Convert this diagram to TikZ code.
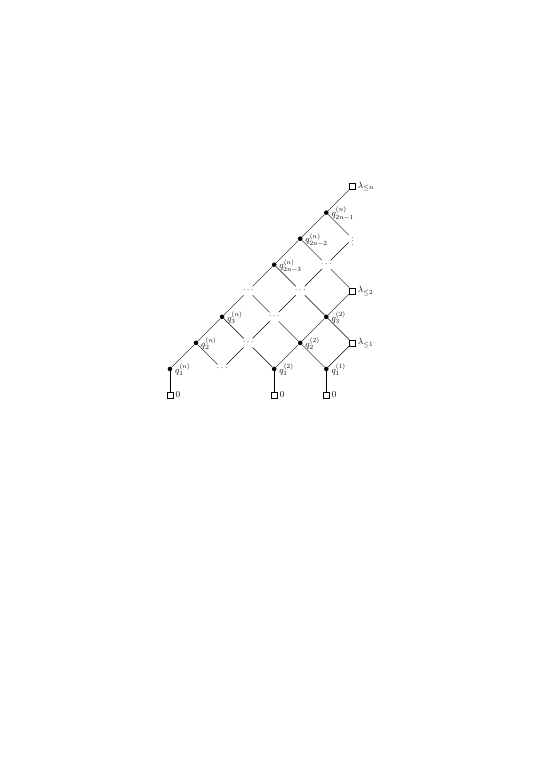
\documentclass[tikz,border=0pt]{standalone}
\begin{document}
\begin{tikzpicture}[
  dot/.style={circle,fill=black,inner sep=0pt,minimum size=5pt},
  sq/.style={draw,rectangle,inner sep=0pt,minimum size=6.5pt,fill=white},
  dd/.style={inner sep=2.5pt},
  lab/.style={inner sep=2.8pt,yshift=-1pt},
  edge/.style={line width=0.45pt}
]
\useasboundingbox (-6.523,-15.43) rectangle (14.40,14.16);
% left column chain
\node[dot,label={[lab]0:$q_1^{(n)}$}] (a1) at (0,0) {};
\node[dot,label={[lab]0:$q_2^{(n)}$}] (a2) at (1,1) {};
\node[dot,label={[lab]0:$q_3^{(n)}$}] (a3) at (2,2) {};
\node[dd] (d33) at (3,3) {$\cdots$};
\node[dot,label={[lab]0:$q_{2n-3}^{(n)}$}] (a4) at (4,4) {};
\node[dot,label={[lab]0:$q_{2n-2}^{(n)}$}] (a5) at (5,5) {};
\node[dot,label={[lab]0:$q_{2n-1}^{(n)}$}] (a6) at (6,6) {};
\node[sq,label={[inner sep=2.5pt]0:$\lambda_{\leq n}$}] (ln) at (7,7) {};
% inner dots
\node[dd] (d20) at (2,0) {$\cdots$};
\node[dd] (d31) at (3,1) {$\cdots$};
\node[dd] (d42) at (4,2) {$\cdots$};
\node[dd] (d53) at (5,3) {$\cdots$};
\node[dd] (d64) at (6,4) {$\cdots$};
\node[dd] (v75) at (7,5) {$\vdots$};
% second column
\node[dot,label={[lab]0:$q_1^{(2)}$}] (b1) at (4,0) {};
\node[dot,label={[lab]0:$q_2^{(2)}$}] (b2) at (5,1) {};
\node[dot,label={[lab]0:$q_3^{(2)}$}] (b3) at (6,2) {};
\node[sq,label={[inner sep=2.5pt]0:$\lambda_{\leq 2}$}] (l2) at (7,3) {};
% first column
\node[dot,label={[lab]0:$q_1^{(1)}$}] (c1) at (6,0) {};
\node[sq,label={[inner sep=2.5pt]0:$\lambda_{\leq 1}$}] (l1) at (7,1) {};
% zeros
\node[sq,label={[inner sep=2.5pt]0:$0$}] (z1) at (0,-1) {};
\node[sq,label={[inner sep=2.5pt]0:$0$}] (z2) at (4,-1) {};
\node[sq,label={[inner sep=2.5pt]0:$0$}] (z3) at (6,-1) {};
% up-right edges
\draw[edge] (a1) -- (a2) -- (a3) -- (d33) -- (a4) -- (a5) -- (a6) -- (ln);
\draw[edge] (d20) -- (d31) -- (d42) -- (d53) -- (d64) -- (v75);
\draw[edge] (b1) -- (b2) -- (b3) -- (l2);
\draw[edge] (c1) -- (l1);
% down-right edges
\draw[edge] (a2) -- (d20);
\draw[edge] (a3) -- (d31) -- (b1);
\draw[edge] (d33) -- (d42) -- (b2) -- (c1);
\draw[edge] (a4) -- (d53) -- (b3) -- (l1);
\draw[edge] (a5) -- (d64) -- (l2);
\draw[edge] (a6) -- (v75);
% verticals
\draw[edge] (a1) -- (z1);
\draw[edge] (b1) -- (z2);
\draw[edge] (c1) -- (z3);
\end{tikzpicture}
\end{document}
